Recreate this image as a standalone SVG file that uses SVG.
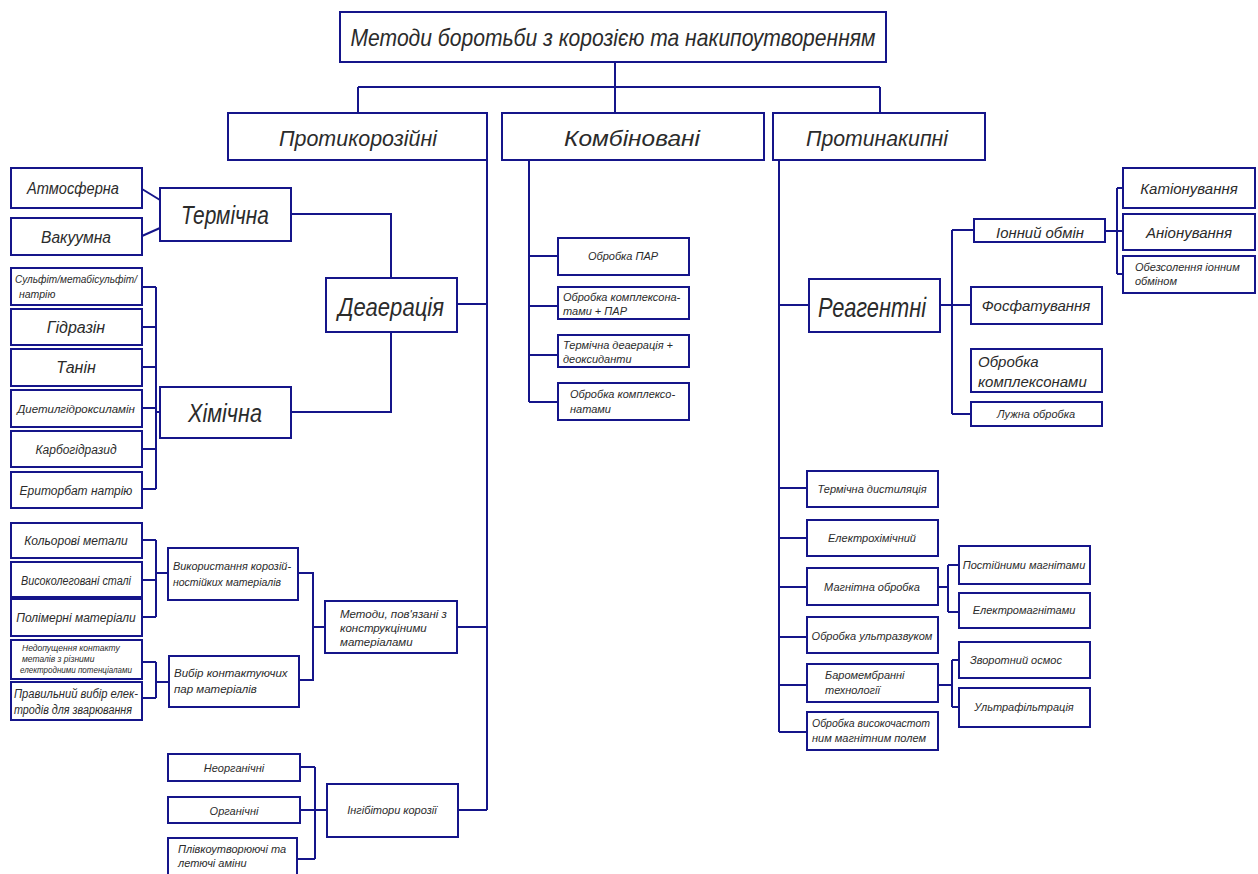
<svg xmlns="http://www.w3.org/2000/svg" width="1258" height="874" viewBox="0 0 1258 874">
<style>
.b{fill:#fff;stroke:#15158a;stroke-width:2}
.c{fill:none;stroke:#15158a;stroke-width:2}
text{font-family:"Liberation Sans",Arial,sans-serif;font-style:italic;fill:#2b2b2b}
.m{text-anchor:middle}
</style>
<rect width="1258" height="874" fill="#fff"/>
<g id="connectors" class="c">
<path d="M615,62V87M358,87H880M358,87V113M615,87V113M880,87V113"/>
<path d="M487,160V810M457,304H487M457,627H487M458,810H487"/>
<path d="M291,214H391V278M291,412H391V332"/>
<path d="M142,189L160,200M142,236L160,228"/>
<path d="M156,287V489M142,287H156M142,327H156M142,367H156M142,408H156M142,449H156M142,489H156M156,412H160"/>
<path d="M156,540V617M142,540H156M142,580H156M142,617H156M156,573H168"/>
<path d="M298,573H313V680H299M313,627H325"/>
<path d="M156,662V698M142,662H156M142,698H156M156,682H169"/>
<path d="M315,767V859M300,767H315M297,859H315M300,810H327"/>
<path d="M529,160V402M529,256H558M529,306H558M529,355H558M529,402H558"/>
<path d="M779,160V732M779,305H809M779,488H807M779,538H807M779,587H807M779,637H807M779,685H807M779,732H807"/>
<path d="M940,305H952M952,230V414M952,230H974M952,305H971M952,414H971"/>
<path d="M1105,231H1117M1117,188V274M1117,188H1123M1117,274H1123M1117,231H1123"/>
<path d="M938,587H948M948,565V612M948,565H959M948,612H959"/>
<path d="M938,685H952M952,660V707M952,660H959M952,707H959"/>
</g>
<g id="root"><rect class="b" x="340" y="12" width="546" height="50"/><text class="m" x="613" y="46" font-size="24" textLength="525" lengthAdjust="spacingAndGlyphs">Методи боротьби з корозією та накипоутворенням</text></g>
<g id="protykoroziini"><rect class="b" x="228" y="113" width="259" height="47"/><text class="m" x="358" y="146" font-size="22" textLength="158" lengthAdjust="spacingAndGlyphs">Протикорозійні</text></g>
<g id="kombinovani"><rect class="b" x="502" y="113" width="262" height="47"/><text class="m" x="632" y="146" font-size="22" textLength="136" lengthAdjust="spacingAndGlyphs">Комбіновані</text></g>
<g id="protynakypni"><rect class="b" x="773" y="113" width="212" height="47"/><text class="m" x="877" y="146" font-size="22" textLength="142" lengthAdjust="spacingAndGlyphs">Протинакипні</text></g>

<g id="termichna"><rect class="b" x="160" y="188" width="131" height="53"/><text class="m" x="225" y="224" font-size="26" textLength="88" lengthAdjust="spacingAndGlyphs">Термічна</text></g>
<g id="deaeratsiia"><rect class="b" x="326" y="278" width="131" height="54"/><text class="m" x="391" y="316" font-size="26" textLength="106" lengthAdjust="spacingAndGlyphs">Деаерація</text></g>
<g id="khimichna"><rect class="b" x="160" y="387" width="131" height="51"/><text class="m" x="225" y="422" font-size="26" textLength="74" lengthAdjust="spacingAndGlyphs">Хімічна</text></g>
<g id="atmosferna"><rect class="b" x="11" y="168" width="131" height="40"/><text class="m" x="73" y="194" font-size="16" textLength="92" lengthAdjust="spacingAndGlyphs">Атмосферна</text></g>
<g id="vakuumna"><rect class="b" x="11" y="218" width="131" height="37"/><text class="m" x="76" y="243" font-size="16" textLength="70" lengthAdjust="spacingAndGlyphs">Вакуумна</text></g>

<g id="sulfit"><rect class="b" x="11" y="268" width="131" height="37"/><text x="15" y="283" font-size="10.5" textLength="122" lengthAdjust="spacingAndGlyphs">Сульфіт/метабісульфіт/</text><text x="19" y="298" font-size="10.5">натрію</text></g>
<g id="hidrazin"><rect class="b" x="11" y="309" width="131" height="36"/><text class="m" x="76" y="333" font-size="16">Гідразін</text></g>
<g id="tanin"><rect class="b" x="11" y="349" width="131" height="37"/><text class="m" x="76" y="373" font-size="16">Танін</text></g>
<g id="dietyl"><rect class="b" x="11" y="390" width="131" height="37"/><text class="m" x="76" y="413" font-size="11.5">Диетилгідроксиламін</text></g>
<g id="karbo"><rect class="b" x="11" y="431" width="131" height="36"/><text class="m" x="76" y="454" font-size="12">Карбогідразид</text></g>
<g id="erytorbat"><rect class="b" x="11" y="472" width="131" height="36"/><text class="m" x="76" y="495" font-size="12">Ериторбат натрію</text></g>

<g id="kolorovi"><rect class="b" x="11" y="523" width="131" height="35"/><text class="m" x="76" y="545" font-size="12">Кольорові метали</text></g>
<g id="vysokoleh"><rect class="b" x="11" y="562" width="131" height="35"/><text class="m" x="76" y="585" font-size="12.5" textLength="110" lengthAdjust="spacingAndGlyphs">Високолеговані сталі</text></g>
<g id="polimerni"><rect class="b" x="11" y="599" width="131" height="37"/><text class="m" x="76" y="622" font-size="12">Полімерні матеріали</text></g>
<g id="vykorystannia"><rect class="b" x="168" y="548" width="130" height="52"/><text x="173" y="570" font-size="11.5" textLength="118" lengthAdjust="spacingAndGlyphs">Використання корозій-</text><text x="173" y="586" font-size="11.5" textLength="108" lengthAdjust="spacingAndGlyphs">ностійких матеріалів</text></g>
<g id="nedopushchennia"><rect class="b" x="11" y="640" width="131" height="39"/><text x="22" y="651" font-size="8.5">Недопущення контакту</text><text x="22" y="662" font-size="8.5">металів з різними</text><text x="20" y="673" font-size="8.5" textLength="112" lengthAdjust="spacingAndGlyphs">електродними потенціалами</text></g>
<g id="pravylnyi"><rect class="b" x="11" y="682" width="131" height="38"/><text x="14" y="698" font-size="12" textLength="124" lengthAdjust="spacingAndGlyphs">Правильний вибір елек-</text><text x="14" y="714" font-size="12" textLength="118" lengthAdjust="spacingAndGlyphs">тродів для зварювання</text></g>
<g id="vybir"><rect class="b" x="169" y="656" width="130" height="51"/><text x="174" y="677" font-size="11.5">Вибір контактуючих</text><text x="174" y="693" font-size="11.5">пар матеріалів</text></g>
<g id="metody-konstr"><rect class="b" x="325" y="601" width="132" height="52"/><text x="340" y="618" font-size="11.5">Методи, пов'язані з</text><text x="340" y="632" font-size="11.5">конструкціними</text><text x="340" y="646" font-size="11.5">матеріалами</text></g>

<g id="neorhanichni"><rect class="b" x="168" y="754" width="132" height="27"/><text class="m" x="234" y="772" font-size="11">Неорганічні</text></g>
<g id="orhanichni"><rect class="b" x="168" y="797" width="132" height="26"/><text class="m" x="234" y="815" font-size="11">Органічні</text></g>
<g id="plivko"><rect class="b" x="168" y="838" width="129" height="40"/><text x="178" y="853" font-size="11">Плівкоутворюючі та</text><text x="178" y="867" font-size="11">летючі аміни</text></g>
<g id="inhibitory"><rect class="b" x="327" y="784" width="131" height="53"/><text class="m" x="392" y="814" font-size="11">Інгібітори корозії</text></g>

<g id="obr-par"><rect class="b" x="558" y="238" width="131" height="37"/><text class="m" x="623" y="260" font-size="11">Обробка ПАР</text></g>
<g id="obr-kompl-par"><rect class="b" x="558" y="287" width="131" height="32"/><text x="563" y="301" font-size="11">Обробка комплексона-</text><text x="563" y="315" font-size="11">тами + ПАР</text></g>
<g id="term-deaer"><rect class="b" x="558" y="335" width="131" height="32"/><text x="563" y="349" font-size="11">Термічна деаерація +</text><text x="563" y="363" font-size="11">деоксиданти</text></g>
<g id="obr-kompl"><rect class="b" x="558" y="383" width="131" height="37"/><text x="570" y="398" font-size="11">Обробка комплексо-</text><text x="570" y="413" font-size="11">натами</text></g>

<g id="reahentni"><rect class="b" x="809" y="279" width="131" height="53"/><text class="m" x="872" y="317" font-size="28" textLength="108" lengthAdjust="spacingAndGlyphs">Реагентні</text></g>
<g id="ionnyi"><rect class="b" x="974" y="219" width="131" height="23"/><text class="m" x="1040" y="238" font-size="15" textLength="88" lengthAdjust="spacingAndGlyphs">Іонний обмін</text></g>
<g id="fosfat"><rect class="b" x="971" y="287" width="131" height="37"/><text class="m" x="1036" y="311" font-size="15">Фосфатування</text></g>
<g id="obr-komplexonamy"><rect class="b" x="971" y="349" width="131" height="43"/><text x="978" y="367" font-size="15">Обробка</text><text x="978" y="387" font-size="15">комплексонами</text></g>
<g id="luzhna"><rect class="b" x="971" y="402" width="131" height="24"/><text class="m" x="1036" y="418" font-size="11">Лужна обробка</text></g>
<g id="kationuvannia"><rect class="b" x="1123" y="168" width="132" height="40"/><text class="m" x="1189" y="194" font-size="15">Катіонування</text></g>
<g id="anionuvannia"><rect class="b" x="1123" y="214" width="132" height="36"/><text class="m" x="1189" y="238" font-size="15">Аніонування</text></g>
<g id="obezsolennia"><rect class="b" x="1123" y="256" width="132" height="37"/><text x="1135" y="271" font-size="11">Обезсолення іонним</text><text x="1135" y="285" font-size="11">обміном</text></g>

<g id="term-dyst"><rect class="b" x="807" y="471" width="131" height="36"/><text class="m" x="872" y="493" font-size="11">Термічна дистиляція</text></g>
<g id="elektrokhim"><rect class="b" x="807" y="520" width="131" height="36"/><text class="m" x="872" y="542" font-size="11">Електрохімічний</text></g>
<g id="mahnitna"><rect class="b" x="807" y="568" width="131" height="37"/><text class="m" x="872" y="591" font-size="11">Магнітна обробка</text></g>
<g id="ultrazvuk"><rect class="b" x="807" y="617" width="131" height="36"/><text class="m" x="872" y="640" font-size="11">Обробка ультразвуком</text></g>
<g id="baromembranni"><rect class="b" x="807" y="664" width="131" height="38"/><text x="825" y="679" font-size="11">Баромембранні</text><text x="825" y="694" font-size="11">технології</text></g>
<g id="vysokochast"><rect class="b" x="807" y="712" width="131" height="38"/><text x="812" y="727" font-size="11" textLength="118" lengthAdjust="spacingAndGlyphs">Обробка високочастот</text><text x="812" y="742" font-size="11">ним магнітним полем</text></g>
<g id="postiini"><rect class="b" x="959" y="546" width="131" height="38"/><text class="m" x="1024" y="569" font-size="11">Постійними магнітами</text></g>
<g id="elektromahn"><rect class="b" x="959" y="593" width="131" height="35"/><text class="m" x="1024" y="614" font-size="11">Електромагнітами</text></g>
<g id="zvorotnyi"><rect class="b" x="959" y="642" width="131" height="36"/><text x="970" y="664" font-size="11">Зворотний осмос</text></g>
<g id="ultrafiltr"><rect class="b" x="959" y="688" width="131" height="39"/><text class="m" x="1024" y="711" font-size="11">Ультрафільтрація</text></g>
</svg>
